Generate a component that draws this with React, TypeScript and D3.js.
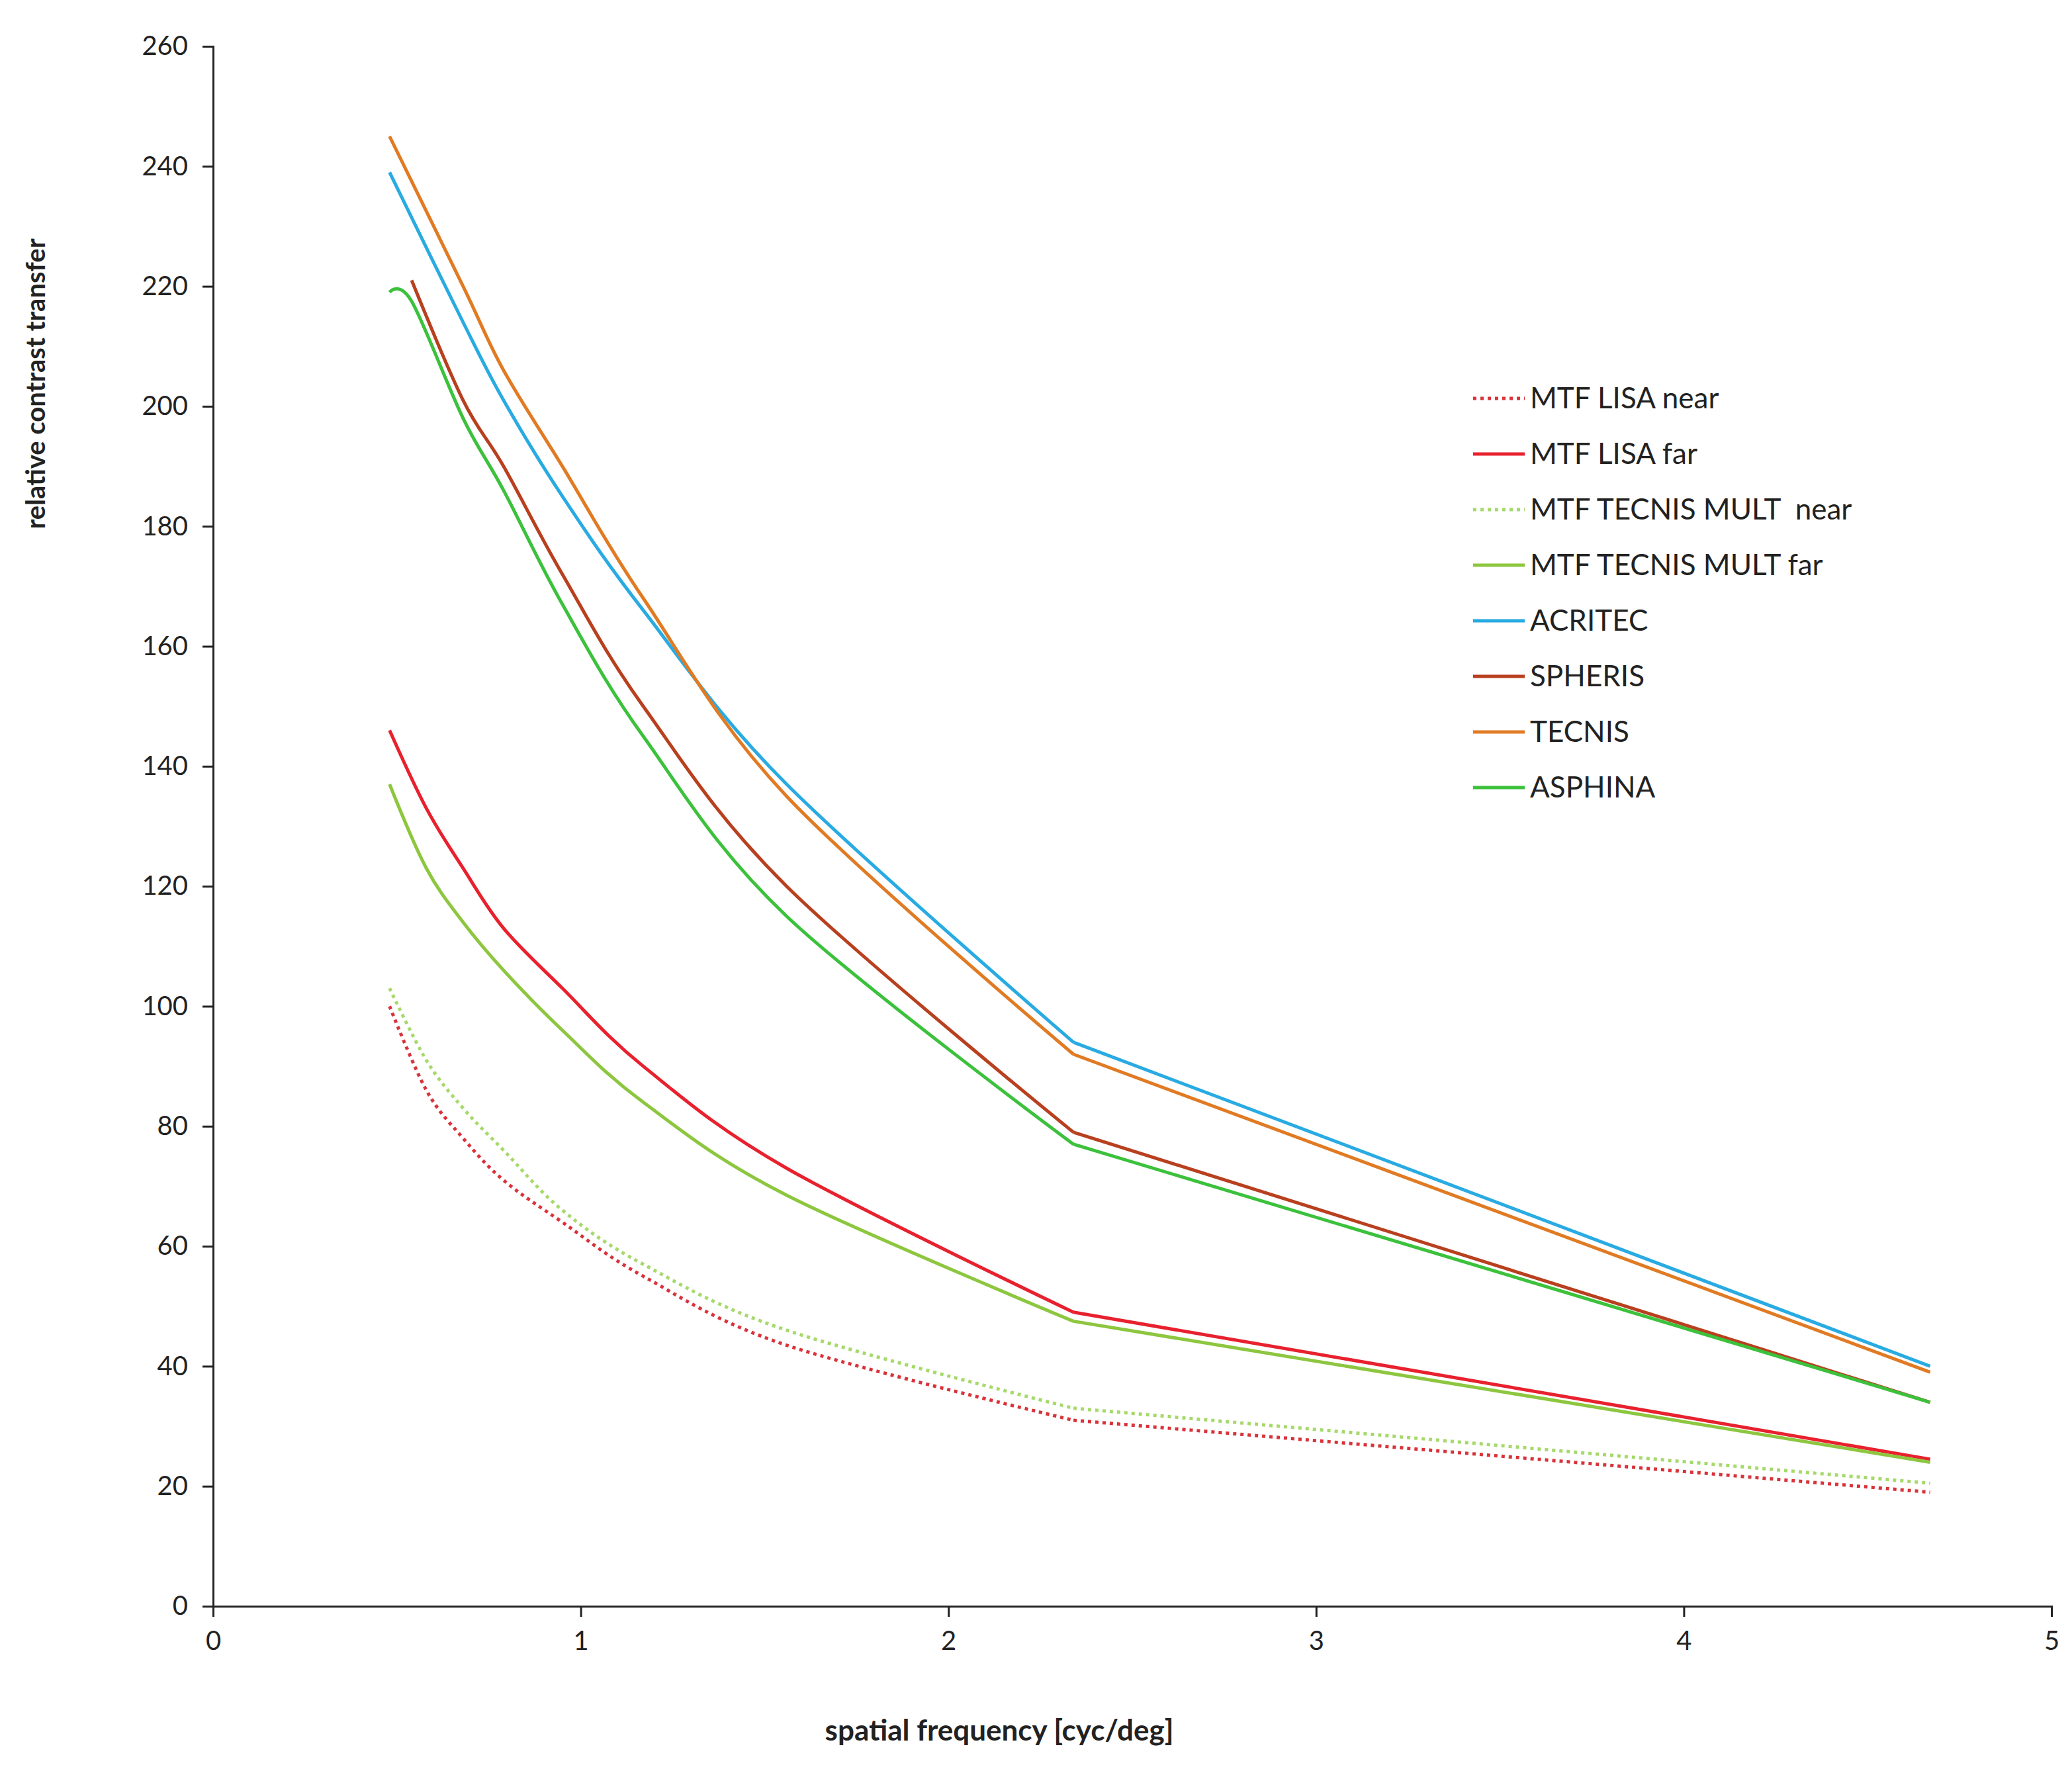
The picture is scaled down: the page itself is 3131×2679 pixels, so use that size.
import React, { useEffect, useRef } from 'react';
import * as d3 from 'd3';

const xBase = [0.48, 0.58, 0.68, 0.79, 0.95, 1.17, 1.56, 2.34, 4.67];
const lisaNear = [100, 86, 78, 71, 64, 55, 43.5, 31, 19];
const lisaFar = [146, 133, 123, 113, 103, 90, 73, 49, 24.5];
const multNear = [103, 91, 83, 76, 66, 57, 46, 33, 20.5];
const multFar = [137, 123, 114, 106, 96, 84, 68.5, 47.5, 24];
const xIol = [0.48, 0.68, 0.79, 0.95, 1.17, 1.56, 2.34, 4.67];
const acritec = [239, 214, 201, 185, 166, 137, 94, 40];
const tecnis = [245, 220, 206, 190, 168, 135, 92, 39];
const xSpheris = [0.54, 0.68, 0.79, 0.95, 1.17, 1.56, 2.34, 4.67];
const spheris = [221, 201, 190, 172, 150, 120, 79, 34];
const xAsphina = [0.48, 0.54, 0.68, 0.79, 0.95, 1.17, 1.56, 2.34, 4.67];
const asphina = [219, 217.5, 198, 186, 167, 145, 115, 77, 34];

const series = [
  { name: 'MTF LISA near', xs: xBase, ys: lisaNear, color: '#d9323a', dash: true },
  { name: 'MTF LISA far', xs: xBase, ys: lisaFar, color: '#e8212e', dash: false },
  { name: 'MTF TECNIS MULT  near', xs: xBase, ys: multNear, color: '#a6d96a', dash: true },
  { name: 'MTF TECNIS MULT far', xs: xBase, ys: multFar, color: '#8dc63f', dash: false },
  { name: 'ACRITEC', xs: xIol, ys: acritec, color: '#29abe2', dash: false },
  { name: 'SPHERIS', xs: xSpheris, ys: spheris, color: '#b8401f', dash: false },
  { name: 'TECNIS', xs: xIol, ys: tecnis, color: '#e07b24', dash: false },
  { name: 'ASPHINA', xs: xAsphina, ys: asphina, color: '#3cc13c', dash: false },
];

const W = 3131, H = 2679;
const M = { left: 322, right: 31, top: 70, bottom: 252 };

export default function App() {
  const ref = useRef<SVGSVGElement>(null);

  useEffect(() => {
    const svg = d3.select(ref.current);
    svg.selectAll('*').remove();
    const font = 'Lato, "Open Sans", sans-serif';

    const x = d3.scaleLinear().domain([0, 5]).range([M.left, W - M.right]);
    const y = d3.scaleLinear().domain([0, 260]).range([H - M.bottom, M.top]);

    const yAxis = svg.append('g').attr('transform', `translate(${M.left},0)`)
      .call(d3.axisLeft(y).tickValues(d3.range(0, 261, 20)).tickSize(16).tickPadding(22));
    const xAxis = svg.append('g').attr('transform', `translate(0,${H - M.bottom})`)
      .call(d3.axisBottom(x).ticks(5).tickSize(16).tickPadding(22));
    [yAxis, xAxis].forEach(a => {
      a.selectAll('path,line').attr('stroke', '#222').attr('stroke-width', 3);
      a.selectAll('text').attr('font-size', 40).attr('font-family', font).attr('fill', '#222');
    });

    // mostly straight segments, like the source plot
    const line = d3.line<[number, number]>().x(d => x(d[0])).y(d => y(d[1])).curve(d3.curveCatmullRom.alpha(0));
    series.forEach(s => {
      const pts = s.xs.map((v, i) => [v, s.ys[i]] as [number, number]);
      const head = pts.slice(0, pts.length - 1);
      const tail = pts.slice(pts.length - 3);
      svg.append('path')
        .attr('d', line(head))
        .attr('fill', 'none').attr('stroke', s.color).attr('stroke-width', 5)
        .attr('stroke-dasharray', s.dash ? '5,6' : null);
      svg.append('path')
        .attr('d', d3.line<[number, number]>().x(d => x(d[0])).y(d => y(d[1]))(tail.slice(1)))
        .attr('fill', 'none').attr('stroke', s.color).attr('stroke-width', 5)
        .attr('stroke-dasharray', s.dash ? '5,6' : null);
    });

    const leg = svg.append('g');
    series.forEach((s, i) => {
      const ly = 602 + i * 84;
      leg.append('line').attr('x1', 2226).attr('x2', 2304).attr('y1', ly).attr('y2', ly)
        .attr('stroke', s.color).attr('stroke-width', 5).attr('stroke-dasharray', s.dash ? '5,6' : null);
      leg.append('text').attr('x', 2312).attr('y', ly).attr('dy', '0.35em')
        .attr('font-size', 44).attr('font-family', font).attr('fill', '#222')
        .attr('xml:space', 'preserve').text(s.name);
    });

    svg.append('text').attr('transform', `translate(68,${580}) rotate(-90)`)
      .attr('text-anchor', 'middle').attr('font-size', 40).attr('font-weight', 'bold')
      .attr('font-family', font).attr('fill', '#222').text('relative contrast transfer');
    svg.append('text').attr('x', 1510).attr('y', 2630)
      .attr('text-anchor', 'middle').attr('font-size', 44).attr('font-weight', 'bold')
      .attr('font-family', font).attr('fill', '#222').text('spatial frequency [cyc/deg]');
  }, []);

  return <svg ref={ref} width={W} height={H} style={{ position: 'absolute', left: 0, top: 0, background: '#fff' }} />;
}
